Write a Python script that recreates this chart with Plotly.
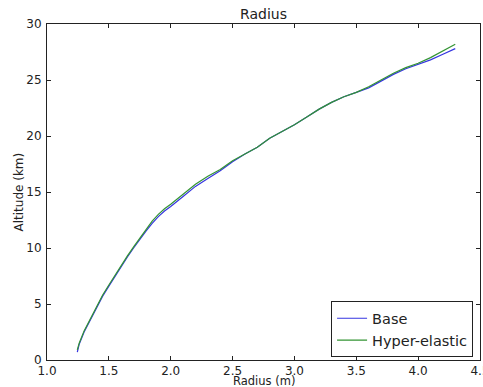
import plotly.graph_objects as go

radius = [1.245, 1.26, 1.30, 1.35, 1.40, 1.45, 1.50, 1.55, 1.60, 1.65, 1.70, 1.75, 1.80,
          1.85, 1.90, 1.95, 2.00, 2.10, 2.20, 2.30, 2.40, 2.50, 2.60, 2.70, 2.80, 2.90,
          3.00, 3.10, 3.20, 3.30, 3.40, 3.50, 3.60, 3.70, 3.80, 3.90, 4.00, 4.10, 4.20, 4.30]
base_alt = [0.7, 1.4, 2.5, 3.6, 4.7, 5.7, 6.6, 7.5, 8.4, 9.2, 10.0, 10.8, 11.5,
            12.2, 12.8, 13.3, 13.7, 14.6, 15.5, 16.2, 16.9, 17.7, 18.4, 19.0, 19.8, 20.4,
            21.0, 21.7, 22.4, 23.0, 23.5, 23.9, 24.3, 24.9, 25.5, 26.0, 26.4, 26.8, 27.3, 27.8]
hyper_alt = [0.9, 1.5, 2.6, 3.7, 4.8, 5.8, 6.7, 7.6, 8.5, 9.3, 10.1, 10.9, 11.6,
             12.4, 13.0, 13.5, 13.9, 14.8, 15.7, 16.4, 17.0, 17.8, 18.4, 19.0, 19.8, 20.4,
             21.0, 21.7, 22.4, 23.0, 23.5, 23.9, 24.4, 25.0, 25.6, 26.1, 26.5, 27.0, 27.6, 28.2]

x_ticks = [1.0, 1.5, 2.0, 2.5, 3.0, 3.5, 4.0, 4.5]
y_ticks = [0, 5, 10, 15, 20, 25, 30]

FONT = "DejaVu Sans"

fig = go.Figure()
fig.add_trace(go.Scatter(x=radius, y=base_alt, mode="lines", name="Base",
                         line=dict(color="#3535e0", width=1.2)))
fig.add_trace(go.Scatter(x=radius, y=hyper_alt, mode="lines", name="Hyper-elastic",
                         line=dict(color="#339433", width=1.2)))

W, H = 483, 387
L, R, T, B = 47, 3, 24, 27

axis_common = dict(showgrid=False, zeroline=False, showline=True, linecolor="#222",
                   linewidth=1, mirror="ticks", ticks="inside", ticklen=4,
                   tickcolor="#222", automargin=False, ticklabeloverflow="allow",
                   tickfont=dict(family=FONT, size=12, color="#222"))

fig.update_layout(
    width=W, height=H,
    margin=dict(l=L, r=R, t=T, b=B, autoexpand=False),
    paper_bgcolor="white", plot_bgcolor="white",
    font=dict(family=FONT, color="#222"),
    title=dict(text="Radius", font=dict(family=FONT, size=14, color="#222"),
               x=0.5, xref="paper", y=1 - 14 / H, yref="container", yanchor="middle",
               automargin=False),
    xaxis=dict(range=[1.0, 4.5], tickvals=x_ticks, ticktext=[f"{v:.1f}" for v in x_ticks],
               ticklabelstandoff=0, **axis_common),
    yaxis=dict(range=[0, 30], tickvals=y_ticks, ticktext=[str(v) for v in y_ticks],
               ticklabelstandoff=2, **axis_common),
    legend=dict(x=0.984, xanchor="right", y=0.008, yanchor="bottom",
                bordercolor="#222", borderwidth=1, bgcolor="white",
                font=dict(family=FONT, size=14.5, color="#222"),
                itemwidth=30, tracegroupgap=0),
    showlegend=True,
)

fig.add_annotation(text="Radius (m)", xref="paper", yref="paper", x=0.5, y=0,
                   yshift=-21, yanchor="middle", showarrow=False,
                   font=dict(family=FONT, size=11.5, color="#222"))
fig.add_annotation(text="Altitude (km)", xref="paper", yref="paper", x=0, y=0.5,
                   xshift=-28.5, xanchor="center", yanchor="middle", textangle=-90,
                   showarrow=False, font=dict(family=FONT, size=12, color="#222"))

fig.write_html("out.html", config={"displayModeBar": False},
               post_script="document.body.style.margin='0';document.body.style.overflow='hidden';")
